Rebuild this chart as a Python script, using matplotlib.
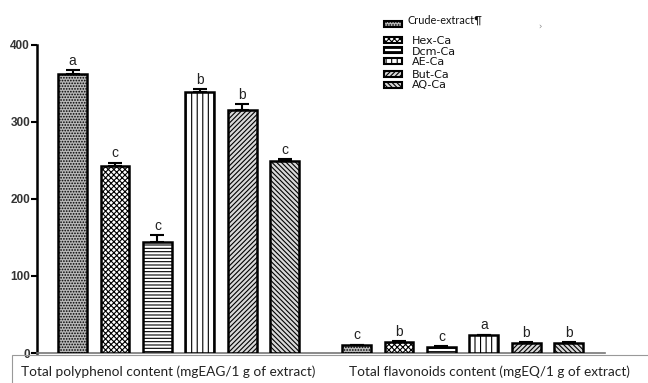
import matplotlib
matplotlib.use("Agg")
import matplotlib.pyplot as plt
from matplotlib.patches import Rectangle
import numpy as np

# extracts and measured contents
extracts = ["Crude-extract¶", "Hex-Ca", "Dcm-Ca", "AE-Ca", "But-Ca", "AQ-Ca"]
polyphenol = [362, 243, 144, 339, 315, 249]
polyphenol_err = [5, 4, 9, 4, 8, 3]
polyphenol_letters = ["a", "c", "c", "b", "b", "c"]
flavonoid = [10, 14, 8, 23, 13, 13]
flavonoid_err = [1, 1, 0.5, 1, 1.5, 1.5]
flavonoid_letters = ["c", "b", "c", "a", "b", "b"]
group_labels = ["Total polyphenol content (mgEAG/1 g of extract)",
                "Total flavonoids content (mgEQ/1 g of extract)"]

faces = ["#b8b8b8", "white", "white", "white", "#d8d8d8", "#d8d8d8"]
hatches = ["......", "xxxxxx", "-----", "|||", "///////", "\\\\\\\\\\\\\\"]

plt.rcParams["hatch.linewidth"] = 0.8
W, H = 648, 383
fig = plt.figure(figsize=(W / 100, H / 100), dpi=100)

# axes placed in pixel terms: y=0 at 353 px, 77 px per 100 units
y0_px, px_per_unit = 353, 0.77
ymax = 420
ax = fig.add_axes([37 / W, (H - y0_px) / H, (605 - 37) / W, ymax * px_per_unit / H])
ax.set_ylim(0, ymax)
ax.set_xlim(-0.84, 12.56)

x1 = np.arange(6)
x2 = np.arange(6) + 6.7
for xs, vals, errs, letters in [(x1, polyphenol, polyphenol_err, polyphenol_letters),
                                (x2, flavonoid, flavonoid_err, flavonoid_letters)]:
    for i in range(6):
        ax.bar(xs[i], vals[i], width=0.68, color=faces[i], edgecolor="black",
               linewidth=1.8, hatch=hatches[i], zorder=3)
        ax.errorbar(xs[i], vals[i], yerr=[[0], [errs[i]]], fmt="none",
                    ecolor="black", elinewidth=1.5, capsize=5, capthick=1.5, zorder=4)
        ax.text(xs[i], vals[i] + errs[i] + 3, letters[i], ha="center", va="bottom",
                fontsize=10, family="Liberation Sans", color="#222222", zorder=5)

for s in ["top", "right"]:
    ax.spines[s].set_visible(False)
ax.spines["left"].set_bounds(0, 400)
ax.spines["left"].set_linewidth(1.8)
ax.spines["bottom"].set_color("#777777")
ax.spines["bottom"].set_linewidth(1.2)
ax.set_xticks([])
ax.set_yticks([0, 100, 200, 300, 400])
ax.tick_params(axis="y", length=4, width=1.5, labelsize=8.5, pad=1)
for t in ax.get_yticklabels():
    t.set_fontweight("bold")
    t.set_family("Liberation Sans")
    t.set_color("#333333")

# label box under the axis
fig.patches.append(Rectangle((12 / W, -0.05), 1.0, (H - 355) / H + 0.05,
                             transform=fig.transFigure, fill=False,
                             edgecolor="#999999", linewidth=0.8))
fig.text(168 / W, 1 - 372 / H, group_labels[0], ha="center", va="center",
         fontsize=9.8, family="Lato", color="#222222")
fig.text(489 / W, 1 - 372 / H, group_labels[1], ha="center", va="center",
         fontsize=9.8, family="Lato", color="#222222")

# legend
patch_y = [24, 40, 50, 61, 74, 85]
text_y = [20, 41, 52, 62, 75, 85]
for i, name in enumerate(extracts):
    fig.patches.append(Rectangle((384 / W, 1 - (patch_y[i] + 3) / H), 18 / W, 6 / H,
                                 transform=fig.transFigure, facecolor=faces[i],
                                 edgecolor="black", linewidth=1.5, hatch=hatches[i]))
    if i == 0:
        fig.text(408 / W, 1 - text_y[i] / H, name, ha="left", va="center",
                 fontsize=7.8, family="Lato", color="#111111")
    else:
        fig.text(412 / W, 1 - text_y[i] / H, name, ha="left", va="center",
                 fontsize=8, family="DejaVu Sans", color="#111111")
fig.text(540 / W, 1 - 27 / H, "\u203a", ha="center", va="center", fontsize=6, color="#888888")

fig.savefig("out.png", dpi=100)
